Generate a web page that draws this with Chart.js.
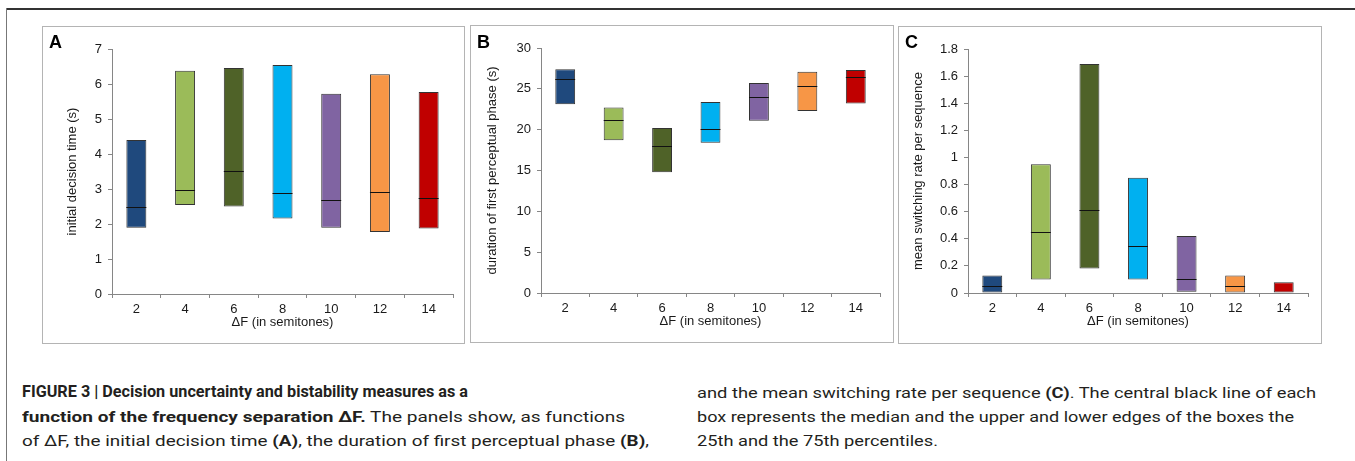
<!DOCTYPE html>
<html>
<head>
<meta charset="utf-8">
<script src="https://cdn.jsdelivr.net/npm/chart.js@4.4.1/dist/chart.umd.min.js"></script>
<style>
  body { margin: 0; background: #fff; width: 1355px; height: 461px; overflow: hidden; position: relative; font-family: "Liberation Sans", Arial, sans-serif; }
  .frame-top { position: absolute; left: 7px; top: 8px; width: 1348px; border-top: 2px solid #333; }
  .frame-left { position: absolute; left: 6px; top: 8px; height: 453px; border-left: 1px solid #777; }
  .panel { position: absolute; border: 1px solid #b4b4b4; background: #fff; }
  .panel canvas { position: absolute; left: 0; top: 0; }
  .tag { position: absolute; font: bold 18px "Liberation Sans", Arial, sans-serif; line-height: 18px; color: #000; }
  .cap { position: absolute; font: 15px Roboto, "Liberation Sans", Arial, sans-serif; line-height: 24px; color: #231f20; white-space: nowrap; transform-origin: 0 0; }
  .cap b { font-weight: bold; }
  .cap.big { font-size: 16px; }
</style>
</head>
<body>
<div class="frame-top"></div>
<div class="frame-left"></div>

<div class="panel" style="left:42px;top:26px;width:421px;height:316px"><canvas id="chartA" width="421" height="316"></canvas></div>
<div class="panel" style="left:470px;top:25px;width:422px;height:316px"><canvas id="chartB" width="422" height="316"></canvas></div>
<div class="panel" style="left:898px;top:26px;width:422px;height:316px"><canvas id="chartC" width="422" height="316"></canvas></div>

<div class="tag" style="left:49px;top:33px">A</div>
<div class="tag" style="left:477px;top:33px">B</div>
<div class="tag" style="left:905px;top:33px">C</div>

<div class="cap big" data-w="446" style="left:22px;top:380px"><b>FIGURE 3 | Decision uncertainty and bistability measures as a</b></div>
<div class="cap" data-w="603" style="left:22px;top:405px"><b>function of the frequency separation ΔF.</b> The panels show, as functions</div>
<div class="cap" data-w="627" style="left:22px;top:429px">of ΔF, the initial decision time <b>(A)</b>, the duration of first perceptual phase <b>(B)</b>,</div>
<div class="cap" data-w="619" style="left:697px;top:381px">and the mean switching rate per sequence <b>(C)</b>. The central black line of each</div>
<div class="cap" data-w="597" style="left:697px;top:405px">box represents the median and the upper and lower edges of the boxes the</div>
<div class="cap" data-w="241" style="left:697px;top:429px">25th and the 75th percentiles.</div>

<script>
// frequency separation (semitones)
var deltaF = ['2', '4', '6', '8', '10', '12', '14'];

// A: initial decision time (s)
var decisionQ1     = [1.89, 2.54, 2.50, 2.16, 1.89, 1.77, 1.87];
var decisionMedian = [2.49, 2.96, 3.51, 2.89, 2.68, 2.91, 2.74];
var decisionQ3     = [4.40, 6.38, 6.46, 6.54, 5.72, 6.28, 5.77];

// B: duration of first perceptual phase (s)
var phaseQ1     = [23.1, 18.7, 14.8, 18.4, 21.1, 22.3, 23.2];
var phaseMedian = [26.2, 21.2, 18.0, 20.1, 24.0, 25.3, 26.4];
var phaseQ3     = [27.4, 22.7, 20.2, 23.4, 25.7, 27.1, 27.3];

// C: mean switching rate per sequence
var switchQ1     = [0.00, 0.10, 0.18, 0.10, 0.01, 0.00, 0.00];
var switchMedian = [0.05, 0.45, 0.61, 0.35, 0.10, 0.05, 0.00];
var switchQ3     = [0.13, 0.95, 1.69, 0.85, 0.42, 0.13, 0.08];

var boxColors = ['#1f497d', '#9bbb59', '#4f6228', '#00b0f0', '#8064a2', '#f79646', '#c00000'];

var FONT = '"Liberation Sans", Arial, sans-serif';
var AXIS_COLOR = '#868686';
var TEXT_COLOR = '#1a1a1a';

// median line across each box, placed with the chart's own y scale
var medianPlugin = {
    id: 'medianLine',
    afterDatasetsDraw: function(chart)
    {
        var meta = chart.getDatasetMeta(0);
        var yScale = chart.scales.y;
        var medians = chart.options.plugins.medianLine.values;
        var ctx = chart.ctx;
        ctx.save();
        ctx.strokeStyle = '#111';
        ctx.lineWidth = 1;
        meta.data.forEach(function(bar, i){
            if (medians[i] <= chart.data.datasets[0].data[i][0]) return;
            var y = Math.round(yScale.getPixelForValue(medians[i])) + 0.5;
            ctx.beginPath();
            ctx.moveTo(bar.x - bar.width / 2, y);
            ctx.lineTo(bar.x + bar.width / 2, y);
            ctx.stroke();
        });
        ctx.restore();
    }
};

function makeBoxChart(id, q1, med, q3, yTitle, yMin, yMax, yStep, pad, yAxisWidth)
{
    var ctx = document.getElementById(id);

    return new Chart(ctx, {
        type: 'bar',
        plugins: [medianPlugin],
        data: {
            labels: deltaF,
            datasets: [{
                label: 'quartiles',
                data: deltaF.map(function(_, i){ return [q1[i], q3[i]]; }),
                backgroundColor: boxColors,
                borderColor: '#333',
                borderWidth: 1,
                borderSkipped: false,
                inflateAmount: 0,
                categoryPercentage: 1,
                barPercentage: 0.41
            }]
        },
        options: {
            responsive: false,
            animation: false,
            devicePixelRatio: 1,
            layout: { padding: pad },
            plugins: {
                legend: { display: false },
                tooltip: { enabled: false },
                medianLine: { values: med }
            },
            scales: {
                x: {
                    grid: { display: true, drawOnChartArea: false, drawTicks: true, tickLength: 4, color: AXIS_COLOR, offset: true },
                    border: { color: AXIS_COLOR, width: 1 },
                    ticks: { font: { family: FONT, size: 13 }, color: TEXT_COLOR, padding: 4, maxRotation: 0 },
                    title: { display: true, text: 'ΔF (in semitones)', font: { family: FONT, size: 13 }, color: TEXT_COLOR, padding: 0 },
                    afterFit: function(scale){ scale.height = 36; }
                },
                y: {
                    min: yMin,
                    max: yMax,
                    grid: { display: true, drawOnChartArea: false, drawTicks: true, tickLength: 4, color: AXIS_COLOR },
                    border: { color: AXIS_COLOR, width: 1 },
                    ticks: {
                        stepSize: yStep,
                        padding: 6,
                        font: { family: FONT, size: 13 },
                        color: TEXT_COLOR,
                        callback: function(v){ return String(Math.round(v * 10) / 10); }
                    },
                    title: { display: true, text: yTitle, font: { family: FONT, size: 13 }, color: TEXT_COLOR, padding: 0 },
                    afterFit: function(scale){ scale.width = yAxisWidth; }
                }
            }
        }
    });
}

makeBoxChart('chartA', decisionQ1, decisionMedian, decisionQ3, 'initial decision time (s)',
    0, 7, 1, { left: 22, top: 22, right: 11, bottom: 13 }, 47);
makeBoxChart('chartB', phaseQ1, phaseMedian, phaseQ3, 'duration of first perceptual phase (s)',
    0, 30, 5, { left: 14, top: 22, right: 13, bottom: 13 }, 56);
makeBoxChart('chartC', switchQ1, switchMedian, switchQ3, 'mean switching rate per sequence',
    0, 1.8, 0.2, { left: 12, top: 22, right: 13, bottom: 14 }, 57);

// stretch caption lines to the measured widths
document.querySelectorAll('.cap').forEach(function(el){
    var target = parseFloat(el.getAttribute('data-w'));
    var w = el.getBoundingClientRect().width;
    if (w > 0) el.style.transform = 'scaleX(' + (target / w) + ')';
});
</script>
</body>
</html>
